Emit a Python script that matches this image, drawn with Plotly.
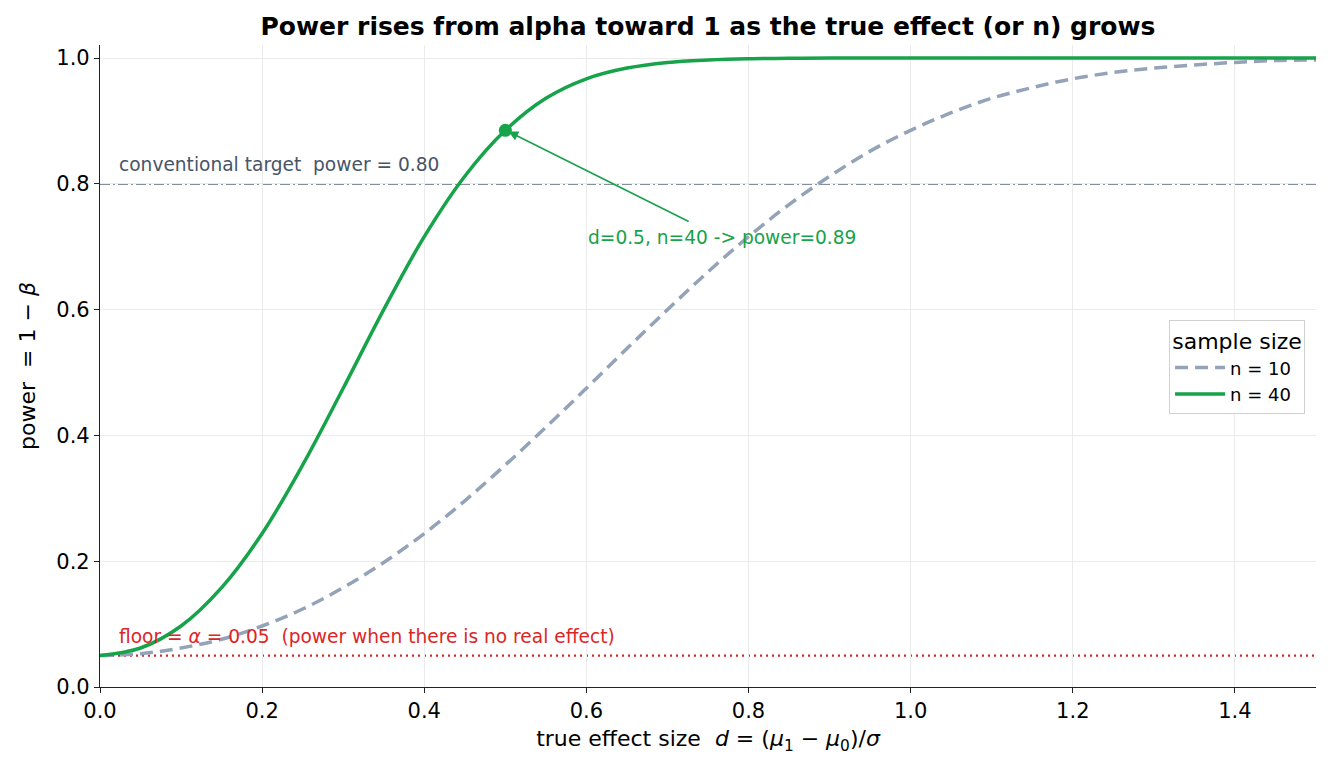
import plotly.graph_objects as go

# effect sizes d
d_vals = [0.0, 0.05, 0.1, 0.15, 0.2, 0.25, 0.3, 0.35, 0.4, 0.45, 0.5, 0.55, 0.6, 0.65,
          0.7, 0.75, 0.8, 0.85, 0.9, 0.95, 1.0, 1.05, 1.1, 1.15, 1.2, 1.25, 1.3, 1.35,
          1.4, 1.45, 1.5]
# power
power_n10 = [0.050, 0.053, 0.062, 0.076, 0.097, 0.124, 0.158, 0.198, 0.244, 0.296,
             0.353, 0.413, 0.475, 0.538, 0.600, 0.660, 0.716, 0.767, 0.812, 0.852,
             0.885, 0.913, 0.936, 0.953, 0.967, 0.977, 0.984, 0.989, 0.993, 0.996, 0.997]
power_n40 = [0.050, 0.062, 0.097, 0.158, 0.244, 0.353, 0.475, 0.600, 0.716, 0.812,
             0.885, 0.936, 0.967, 0.984, 0.993, 0.997, 0.999, 0.9995, 1.0, 1.0,
             1.0, 1.0, 1.0, 1.0, 1.0, 1.0, 1.0, 1.0, 1.0, 1.0, 1.0]

target_power = 0.80
alpha = 0.05
marker_d = 0.5
marker_power = 0.885

GREEN = "#16a34a"
SLATE = "#94a3b8"
DARK = "#5b6b80"
TEXT_SLATE = "#475569"
RED = "#dc2626"
FONT = "DejaVu Sans"

fig = go.Figure()

fig.add_trace(go.Scatter(x=d_vals, y=power_n10, mode="lines", name="n = 10",
                         line=dict(color=SLATE, width=3.5, dash="13px,7px", shape="spline")))
fig.add_trace(go.Scatter(x=d_vals, y=power_n40, mode="lines", name="n = 40",
                         line=dict(color=GREEN, width=3.5, shape="spline")))
fig.add_trace(go.Scatter(x=[marker_d], y=[marker_power], mode="markers", showlegend=False,
                         marker=dict(color=GREEN, size=13)))

fig.add_hline(y=target_power, line=dict(color=DARK, width=1.8, dash="10px,3px,2px,3px"), layer="below")
fig.add_hline(y=alpha, line=dict(color=RED, width=2.2, dash="2px,4px"), layer="below")

fig.add_annotation(x=0.021, y=0.83, xref="x", yref="y", text="conventional target  power = 0.80",
                   showarrow=False, xanchor="left", yanchor="middle",
                   font=dict(family=FONT, size=18.6, color=TEXT_SLATE))
fig.add_annotation(x=0.021, y=0.080, xref="x", yref="y",
                   text="floor = <i>α</i> = 0.05  (power when there is no real effect)",
                   showarrow=False, xanchor="left", yanchor="middle",
                   font=dict(family=FONT, size=18.6, color=RED))
# arrow
fig.add_annotation(x=marker_d + 0.004, y=marker_power - 0.002, xref="x", yref="y",
                   ax=0.728, ay=0.739, axref="x", ayref="y", text="",
                   showarrow=True, arrowhead=2, arrowsize=1.2, arrowwidth=1.6,
                   arrowcolor=GREEN, standoff=0)
fig.add_annotation(x=0.767, y=0.715, xref="x", yref="y", text="d=0.5, n=40 -> power=0.89",
                   showarrow=False, xanchor="center", yanchor="middle",
                   font=dict(family=FONT, size=18.6, color=GREEN))

fig.update_layout(
    width=1330, height=775,
    margin=dict(l=100, r=14, t=45, b=88, autoexpand=False),
    plot_bgcolor="white", paper_bgcolor="white",
    font=dict(family=FONT, size=21, color="black"),
    title=dict(text="<b>Power rises from alpha toward 1 as the true effect (or n) grows</b>",
               x=708 / 1330, xanchor="center", y=0.966, yanchor="middle",
               font=dict(family=FONT, size=25, color="black")),
    legend=dict(x=0.991, y=0.572, xanchor="right", yanchor="top",
                bgcolor="white", bordercolor="#d0d0d0", borderwidth=1,
                title=dict(text="sample size", side="top center",
                           font=dict(family=FONT, size=22)),
                font=dict(family=FONT, size=18), itemwidth=50,
                tracegroupgap=2),
    showlegend=True,
)

fig.update_xaxes(range=[0, 1.5], tickvals=[0, 0.2, 0.4, 0.6, 0.8, 1.0, 1.2, 1.4],
                 ticktext=["0.0", "0.2", "0.4", "0.6", "0.8", "1.0", "1.2", "1.4"],
                 showgrid=True, gridcolor="#ebebeb", gridwidth=1,
                 showline=True, linecolor="#222222", linewidth=1.2,
                 ticks="outside", ticklen=5, tickcolor="#222222", zeroline=False,
                 automargin=False,
                 title=dict(text="true effect size  <i>d</i> = (<i>μ</i><sub>1</sub> − <i>μ</i><sub>0</sub>)/<i>σ</i>",
                            font=dict(family=FONT, size=22), standoff=8),
                 tickfont=dict(family=FONT, size=21))
fig.update_yaxes(range=[0, 1.0207], tickvals=[0, 0.2, 0.4, 0.6, 0.8, 1.0],
                 ticktext=["0.0", "0.2", "0.4", "0.6", "0.8", "1.0"],
                 showgrid=True, gridcolor="#ebebeb", gridwidth=1,
                 showline=True, linecolor="#222222", linewidth=1.2,
                 ticks="outside", ticklen=5, tickcolor="#222222", zeroline=False,
                 automargin=False,
                 title=dict(text="power  = 1 − <i>β</i>", font=dict(family=FONT, size=22), standoff=14),
                 tickfont=dict(family=FONT, size=21))

fig.write_html("out.html")
